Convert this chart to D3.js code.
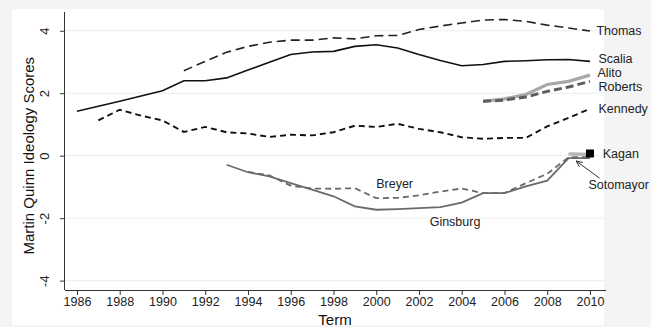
<!DOCTYPE html>
<html>
<head>
<meta charset="utf-8">
<script src="https://cdn.jsdelivr.net/npm/d3@7"></script>
<style>
  html, body { margin: 0; padding: 0; background: #f4f4f4; }
  svg { display: block; font-family: "Liberation Sans", Arial, Helvetica, sans-serif; }
</style>
</head>
<body>
<svg id="chart" width="651" height="327"></svg>
<script>
// Martin-Quinn ideology scores by term, one array per justice
const yearTicks = [1986, 1988, 1990, 1992, 1994, 1996, 1998, 2000, 2002, 2004, 2006, 2008, 2010];
const scoreTicks = [-4, -2, 0, 2, 4];

const scaliaStart = 1986;
const scaliaScores = [1.42, 1.58, 1.74, 1.91, 2.08, 2.40, 2.40, 2.49, 2.74, 2.99, 3.24, 3.32, 3.34, 3.50, 3.55, 3.45, 3.24, 3.05, 2.88, 2.92, 3.02, 3.04, 3.07, 3.08, 3.02];

const thomasStart = 1991;
const thomasScores = [2.72, 3.02, 3.31, 3.50, 3.63, 3.70, 3.70, 3.77, 3.74, 3.84, 3.85, 4.04, 4.15, 4.25, 4.34, 4.36, 4.30, 4.18, 4.09, 3.99];

const kennedyStart = 1987;
const kennedyScores = [1.13, 1.47, 1.28, 1.13, 0.76, 0.92, 0.75, 0.71, 0.60, 0.67, 0.65, 0.75, 0.96, 0.92, 1.02, 0.86, 0.75, 0.59, 0.54, 0.57, 0.57, 0.94, 1.21, 1.50];

const alitoStart = 2005;
const alitoScores = [1.74, 1.82, 1.96, 2.28, 2.38, 2.58];

const robertsStart = 2005;
const robertsScores = [1.74, 1.78, 1.88, 2.06, 2.20, 2.38];

const ginsburgStart = 1993;
const ginsburgScores = [-0.29, -0.53, -0.66, -0.88, -1.09, -1.30, -1.62, -1.73, -1.71, -1.68, -1.65, -1.50, -1.20, -1.20, -0.98, -0.80, -0.08, -0.08];

const breyerStart = 1994;
const breyerScores = [-0.52, -0.63, -0.96, -1.05, -1.06, -1.04, -1.36, -1.35, -1.27, -1.15, -1.05, -1.20, -1.20, -0.88, -0.58, -0.05, -0.05];

const sotomayorStart = 2009;
const sotomayorScores = [0.06, 0.04];

const kaganStart = 2010;
const kaganScores = [0.07];

const toPoints = (start, vals) => vals.map((v, i) => ({ year: start + i, score: v }));

const svg = d3.select("#chart");

// white plot card
svg.append("rect").attr("x", 12).attr("y", 9).attr("width", 592).attr("height", 316).attr("fill", "#ffffff");

const x = d3.scaleLinear().domain([1985.44, 2010.75]).range([65, 606]);
const y = d3.scaleLinear().domain([-4.3, 4.6]).range([290, 12]);

// horizontal grid
svg.append("g")
  .selectAll("line")
  .data(scoreTicks)
  .join("line")
  .attr("x1", 65).attr("x2", 603)
  .attr("y1", d => y(d)).attr("y2", d => y(d))
  .attr("stroke", "#ececec").attr("stroke-width", 1);

// axes
const yAxis = svg.append("g")
  .attr("transform", "translate(65,0)")
  .call(d3.axisLeft(y).tickValues(scoreTicks).tickSize(5).tickPadding(8).tickFormat(d => String(d)));
yAxis.select(".domain").attr("stroke", "#333").attr("d", `M-0.5,${y(4.6)}V${y(-4.3)}`);
yAxis.selectAll(".tick line").attr("stroke", "#333");
yAxis.selectAll(".tick text")
  .attr("font-size", 13).attr("fill", "#222")
  .attr("text-anchor", "middle")
  .attr("x", 0).attr("dy", 0)
  .attr("transform", "translate(-21,0) rotate(-90)")
  .attr("dominant-baseline", "central");

const xAxis = svg.append("g")
  .attr("transform", "translate(0,290)")
  .call(d3.axisBottom(x).tickValues(yearTicks).tickSize(5).tickPadding(2).tickFormat(d => String(d)));
xAxis.select(".domain").attr("stroke", "#333").attr("d", "M65,0.5H606");
xAxis.selectAll(".tick line").attr("stroke", "#333");
xAxis.selectAll(".tick text").attr("font-size", 12.5).attr("fill", "#222");

// axis titles
svg.append("text")
  .attr("x", 335).attr("y", 325)
  .attr("text-anchor", "middle")
  .attr("font-size", 15).attr("fill", "#111")
  .text("Term");

svg.append("text")
  .attr("transform", `translate(28,${y(0)}) rotate(-90)`)
  .attr("text-anchor", "middle")
  .attr("dominant-baseline", "central")
  .attr("font-size", 15).attr("fill", "#111")
  .text("Martin Quinn Ideology Scores");

const line = d3.line().x(d => x(d.year)).y(d => y(d.score));

const series = [
  { pts: toPoints(sotomayorStart, sotomayorScores), color: "#b5b5b5", width: 3.2, dash: null },
  { pts: toPoints(scaliaStart, scaliaScores), color: "#111", width: 1.6, dash: null },
  { pts: toPoints(thomasStart, thomasScores), color: "#222", width: 1.6, dash: "9,5" },
  { pts: toPoints(kennedyStart, kennedyScores), color: "#111", width: 1.9, dash: "6,4" },
  { pts: toPoints(alitoStart, alitoScores), color: "#a8a8a8", width: 3.2, dash: null },
  { pts: toPoints(robertsStart, robertsScores), color: "#5e5e5e", width: 3, dash: "8,4" },
  { pts: toPoints(ginsburgStart, ginsburgScores), color: "#6a6a6a", width: 1.8, dash: null },
  { pts: toPoints(breyerStart, breyerScores), color: "#6a6a6a", width: 1.8, dash: "6,4" }
];

svg.append("g")
  .selectAll("path")
  .data(series)
  .join("path")
  .attr("d", d => line(d.pts))
  .attr("fill", "none")
  .attr("stroke", d => d.color)
  .attr("stroke-width", d => d.width)
  .attr("stroke-dasharray", d => d.dash);

// Kagan: single term, square marker
const sq = 8;
svg.append("g")
  .selectAll("rect")
  .data(toPoints(kaganStart, kaganScores))
  .join("rect")
  .attr("x", d => x(d.year) - sq / 2)
  .attr("y", d => y(d.score) - sq / 2)
  .attr("width", sq).attr("height", sq)
  .attr("fill", "#000");

// name labels
const labels = [
  { text: "Thomas", year: 2010.3, score: 3.99 },
  { text: "Scalia", year: 2010.4, score: 3.08 },
  { text: "Alito", year: 2010.35, score: 2.65 },
  { text: "Roberts", year: 2010.4, score: 2.2 },
  { text: "Kennedy", year: 2010.4, score: 1.5 },
  { text: "Kagan", year: 2010.6, score: 0.06 },
  { text: "Sotomayor", year: 2009.93, score: -0.95 },
  { text: "Breyer", year: 2000.0, score: -0.9 },
  { text: "Ginsburg", year: 2002.5, score: -2.12 }
];
svg.append("g")
  .selectAll("text")
  .data(labels)
  .join("text")
  .attr("x", d => x(d.year))
  .attr("y", d => y(d.score))
  .attr("dominant-baseline", "central")
  .attr("font-size", 12.5).attr("fill", "#222")
  .text(d => d.text);

// arrow pointing Sotomayor's label at her line
svg.append("defs").append("marker")
  .attr("id", "arrowhead")
  .attr("viewBox", "0 0 10 10")
  .attr("refX", 9).attr("refY", 5)
  .attr("markerWidth", 7).attr("markerHeight", 7)
  .attr("orient", "auto")
  .append("path")
  .attr("d", "M0,1 L9,5 L0,9")
  .attr("fill", "none").attr("stroke", "#333").attr("stroke-width", 1.3);

svg.append("line")
  .attr("x1", x(2010.45)).attr("y1", y(-0.72))
  .attr("x2", x(2009.35)).attr("y2", y(-0.17))
  .attr("stroke", "#333").attr("stroke-width", 1)
  .attr("marker-end", "url(#arrowhead)");
</script>
</body>
</html>
